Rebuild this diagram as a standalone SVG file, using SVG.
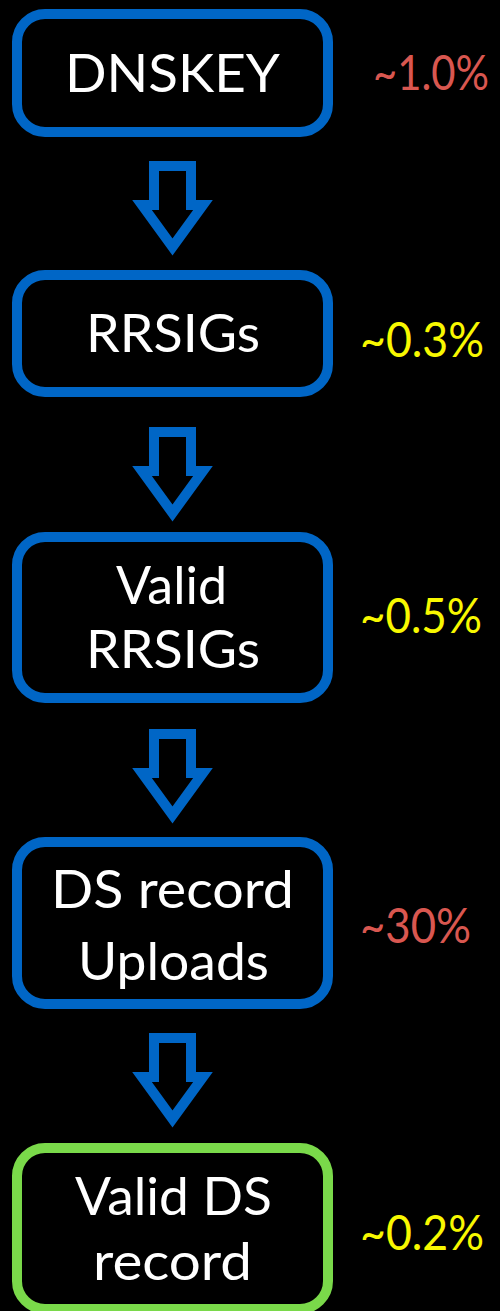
<svg xmlns="http://www.w3.org/2000/svg" width="500" height="1311" viewBox="0 0 500 1311">
<style>
.box{fill:#000;stroke:#0066c6;stroke-width:10}
.ok{fill:#000;stroke:#7ad94a;stroke-width:10}
.arr{fill:none;stroke:#0066c6;stroke-width:10;stroke-linejoin:miter}
.t{font-family:Lato,"Open Sans","Liberation Sans",sans-serif;fill:#fff;font-size:53px}
.p{font-family:Lato,"Open Sans","Liberation Sans",sans-serif;font-size:49px}
.red{fill:#d95750}
.yel{fill:#f8f800}
</style>
<defs>
<polygon id="arrow" class="arr" points="154,166 191,166 191,205 203,205 172.5,247 142,205 154,205"/>
</defs>
<rect width="500" height="1311" fill="#000"/>
<g id="connectors">
<use href="#arrow"/>
<use href="#arrow" y="266"/>
<use href="#arrow" y="568"/>
<use href="#arrow" y="872"/>
</g>
<g id="dnskey">
<rect class="box" x="17" y="14" width="311" height="118" rx="28"/>
<text class="t" x="65" y="92" textLength="215" lengthAdjust="spacingAndGlyphs">DNSKEY</text>
<text class="p red" x="489" y="90" text-anchor="end" textLength="116" lengthAdjust="spacingAndGlyphs">~1.0%</text>
</g>
<g id="rrsigs">
<rect class="box" x="17" y="275" width="311" height="117" rx="28"/>
<text class="t" x="86" y="352" textLength="174" lengthAdjust="spacingAndGlyphs">RRSIGs</text>
<text class="p yel" x="360" y="357" textLength="124" lengthAdjust="spacingAndGlyphs">~0.3%</text>
</g>
<g id="valid-rrsigs">
<rect class="box" x="17" y="537" width="311" height="161" rx="28"/>
<text class="t" x="116" y="604" textLength="111" lengthAdjust="spacingAndGlyphs">Valid</text>
<text class="t" x="86" y="668" textLength="174" lengthAdjust="spacingAndGlyphs">RRSIGs</text>
<text class="p yel" x="360" y="633" textLength="122" lengthAdjust="spacingAndGlyphs">~0.5%</text>
</g>
<g id="ds-uploads">
<rect class="box" x="17" y="842" width="311" height="162" rx="28"/>
<text class="t" x="51" y="908" textLength="243" lengthAdjust="spacingAndGlyphs">DS record</text>
<text class="t" x="78" y="980" textLength="191" lengthAdjust="spacingAndGlyphs">Uploads</text>
<text class="p red" x="360" y="943" textLength="111" lengthAdjust="spacingAndGlyphs">~30%</text>
</g>
<g id="valid-ds">
<rect class="ok" x="17" y="1148" width="311" height="161" rx="28"/>
<text class="t" x="75" y="1215" textLength="197" lengthAdjust="spacingAndGlyphs">Valid DS</text>
<text class="t" x="93" y="1280" textLength="159" lengthAdjust="spacingAndGlyphs">record</text>
<text class="p yel" x="360" y="1250" textLength="124" lengthAdjust="spacingAndGlyphs">~0.2%</text>
</g>
</svg>
